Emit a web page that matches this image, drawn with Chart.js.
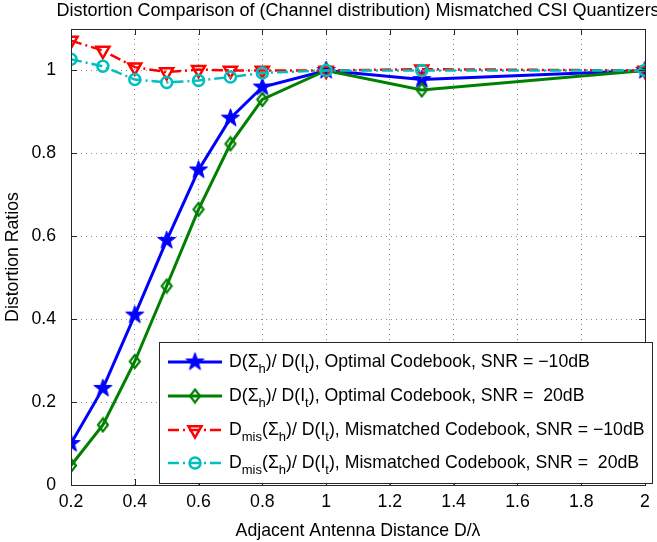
<!DOCTYPE html>
<html><head><meta charset="utf-8">
<script src="https://cdn.jsdelivr.net/npm/chart.js@4.4.0/dist/chart.umd.min.js"></script>
<style>html,body{margin:0;padding:0;background:#fff;overflow:hidden}#wrap{width:657px;height:542px;}</style>
</head><body><div id="wrap"><canvas id="c" width="657" height="542"></canvas></div>
<script>
const xValues = [0.2, 0.3, 0.4, 0.5, 0.6, 0.7, 0.8, 1.0, 1.3, 2.0];
const optimalLow = [0.100, 0.233, 0.410, 0.590, 0.760, 0.885, 0.960, 1.000, 0.978, 1.000];
const optimalHigh = [0.047, 0.145, 0.298, 0.480, 0.665, 0.823, 0.930, 1.000, 0.953, 1.000];
const mismatchLow = [1.072, 1.048, 1.008, 0.996, 1.002, 1.000, 1.000, 1.000, 1.003, 1.000];
const mismatchHigh = [1.027, 1.010, 0.978, 0.971, 0.976, 0.984, 0.994, 1.000, 1.000, 1.000];
const xTicks = [0.2, 0.4, 0.6, 0.8, 1, 1.2, 1.4, 1.6, 1.8, 2];
const yTicks = [0, 0.2, 0.4, 0.6, 0.8, 1];
const titleText = "Distortion Comparison of (Channel distribution) Mismatched CSI Quantizers";
const xTitle = "Adjacent Antenna Distance D/\u03bb";
const yTitle = "Distortion Ratios";
const seriesNames = [
  "D(\u03a3h)/ D(It), Optimal Codebook, SNR = \u221210dB",
  "D(\u03a3h)/ D(It), Optimal Codebook, SNR =  20dB",
  "Dmis(\u03a3h)/ D(It), Mismatched Codebook, SNR = \u221210dB",
  "Dmis(\u03a3h)/ D(It), Mismatched Codebook, SNR =  20dB"
];
// legend rich text: [text, isSubscript]
const legendParts = [
  [["D(\u03a3",0],["h",1],[")/ D(I",0],["t",1],["), Optimal Codebook, SNR = \u221210dB",0]],
  [["D(\u03a3",0],["h",1],[")/ D(I",0],["t",1],["), Optimal Codebook, SNR =  20dB",0]],
  [["D",0],["mis",1],["(\u03a3",0],["h",1],[")/ D(I",0],["t",1],["), Mismatched Codebook, SNR = \u221210dB",0]],
  [["D",0],["mis",1],["(\u03a3",0],["h",1],[")/ D(I",0],["t",1],["), Mismatched Codebook, SNR =  20dB",0]]
];

const FONT = "'Liberation Sans', Arial, Helvetica, sans-serif";
const FS = 17.7;

function makeStar(color, R) {
  const c = document.createElement('canvas');
  const s = Math.ceil(R * 2 + 2);
  c.width = s; c.height = s;
  const g = c.getContext('2d');
  const cx = s / 2, cy = s / 2, r = R * 0.4;
  g.beginPath();
  for (let i = 0; i < 10; i++) {
    const a = -Math.PI / 2 + i * Math.PI / 5;
    const rr = i % 2 === 0 ? R : r;
    g.lineTo(cx + rr * Math.cos(a), cy + rr * Math.sin(a));
  }
  g.closePath();
  g.fillStyle = color; g.fill();
  g.strokeStyle = color; g.lineWidth = 1; g.stroke();
  return c;
}
function makeDiamond(color, w, h) {
  const c = document.createElement('canvas');
  c.width = w + 4; c.height = h + 4;
  const g = c.getContext('2d');
  const cx = c.width / 2, cy = c.height / 2;
  g.beginPath();
  g.moveTo(cx, cy - h / 2); g.lineTo(cx + w / 2, cy); g.lineTo(cx, cy + h / 2); g.lineTo(cx - w / 2, cy);
  g.closePath();
  g.strokeStyle = color; g.lineWidth = 2.2; g.stroke();
  return c;
}
const starImg = makeStar('#0000ff', 9.5);
const diamondImg = makeDiamond('#008000', 10, 13);

function pts(arr) { return xValues.map((x, i) => ({ x: x, y: arr[i] })); }

const datasets = [
  { label: seriesNames[0], data: pts(optimalLow), borderColor: '#0000ff', backgroundColor: '#0000ff',
    borderWidth: 3, pointStyle: starImg, pointRadius: 9, order: 3 },
  { label: seriesNames[1], data: pts(optimalHigh), borderColor: '#008000', backgroundColor: 'rgba(0,0,0,0)',
    borderWidth: 3, pointStyle: diamondImg, pointRadius: 7, order: 2 },
  { label: seriesNames[2], data: pts(mismatchLow), borderColor: '#ff0000', backgroundColor: 'rgba(0,0,0,0)',
    borderWidth: 2.5, borderDash: [11, 4, 2, 4], pointStyle: 'triangle', pointRotation: 180, pointRadius: 7.5,
    pointBorderWidth: 2.5, order: 1 },
  { label: seriesNames[3], data: pts(mismatchHigh), borderColor: '#00bfbf', backgroundColor: 'rgba(0,0,0,0)',
    borderWidth: 2.5, borderDash: [11, 4, 2, 4], pointStyle: 'circle', pointRadius: 5.5,
    pointBorderWidth: 2.5, order: 0 }
];
datasets.forEach(d => { d.showLine = true; d.tension = 0; d.fill = false; d.pointBorderColor = d.borderColor;
  d.pointBackgroundColor = d.backgroundColor; d.pointHoverRadius = d.pointRadius; });

const matlabPlugin = {
  id: 'matlab',
  beforeDraw(chart) {
    const ctx = chart.ctx;
    ctx.save();
    ctx.fillStyle = '#fff';
    ctx.fillRect(0, 0, chart.width, chart.height);
    ctx.restore();
  },
  afterDatasetsDraw(chart) {
    const ctx = chart.ctx, a = chart.chartArea;
    const xs = chart.scales.x, ys = chart.scales.y;
    ctx.save();
    // frame
    ctx.strokeStyle = '#262626'; ctx.lineWidth = 1;
    ctx.strokeRect(Math.round(a.left) + 0.5, Math.round(a.top) + 0.5, Math.round(a.right - a.left), Math.round(a.bottom - a.top));
    // inward ticks
    ctx.beginPath();
    xTicks.forEach(v => {
      const px = Math.round(xs.getPixelForValue(v)) + 0.5;
      ctx.moveTo(px, a.bottom); ctx.lineTo(px, a.bottom - 6);
      ctx.moveTo(px, a.top); ctx.lineTo(px, a.top + 6);
    });
    yTicks.forEach(v => {
      const py = Math.round(ys.getPixelForValue(v)) + 0.5;
      ctx.moveTo(a.left, py); ctx.lineTo(a.left + 6, py);
      ctx.moveTo(a.right, py); ctx.lineTo(a.right - 6, py);
    });
    ctx.stroke();
    // title
    ctx.fillStyle = '#000';
    ctx.font = '18px ' + FONT;
    ctx.textAlign = 'center'; ctx.textBaseline = 'middle';
    ctx.fillText(titleText, (a.left + a.right) / 2, 11);
    // legend
    const L = { x: 159.5, y: 342.5, w: 493, h: 141 };
    ctx.fillStyle = '#fff';
    ctx.fillRect(L.x, L.y, L.w, L.h);
    ctx.strokeStyle = '#262626'; ctx.lineWidth = 1;
    ctx.strokeRect(L.x, L.y, L.w, L.h);
    const rowY = [362, 396, 430, 463];
    chart.data.datasets.forEach((d, i) => {
      const y = rowY[i];
      ctx.save();
      ctx.strokeStyle = d.borderColor; ctx.lineWidth = d.borderWidth;
      ctx.setLineDash(d.borderDash || []);
      ctx.beginPath(); ctx.moveTo(168, y); ctx.lineTo(222, y); ctx.stroke();
      ctx.setLineDash([]);
      ctx.strokeStyle = d.pointBorderColor; ctx.fillStyle = d.pointBackgroundColor;
      ctx.lineWidth = d.pointBorderWidth || 1;
      Chart.helpers.drawPoint(ctx, { pointStyle: d.pointStyle, radius: d.pointRadius, rotation: d.pointRotation || 0,
        borderWidth: d.pointBorderWidth || 1 }, 195, y);
      ctx.restore();
      let x = 229;
      ctx.fillStyle = '#000'; ctx.textAlign = 'left'; ctx.textBaseline = 'middle';
      legendParts[i].forEach(p => {
        if (p[1]) { ctx.font = '13px ' + FONT; ctx.fillText(p[0], x, y + 7); }
        else { ctx.font = FS + 'px ' + FONT; ctx.fillText(p[0], x, y); }
        x += ctx.measureText(p[0]).width;
      });
    });
    ctx.restore();
  }
};

new Chart(document.getElementById('c'), {
  type: 'line',
  data: { datasets: datasets },
  options: {
    responsive: false, animation: false, devicePixelRatio: 1,
    layout: { padding: { top: 29, right: 5, left: 0, bottom: 0 } },
    plugins: { legend: { display: false }, title: { display: false }, tooltip: { enabled: false } },
    scales: {
      x: {
        type: 'linear', min: 0.2, max: 2,
        afterBuildTicks: s => { s.ticks = xTicks.map(v => ({ value: v })); },
        afterFit: s => { s.height = 57; },
        ticks: { font: { size: FS, family: FONT }, color: '#000', padding: 6, maxRotation: 0,
          callback: v => String(v) },
        grid: { color: 'rgba(0,0,0,0.45)', lineWidth: 1, drawTicks: false, borderDash: [1, 4] },
        border: { display: false, dash: [1, 4] },
        title: { display: true, text: xTitle, color: '#000', font: { size: FS, family: FONT }, padding: { top: 1, bottom: 0 } }
      },
      y: {
        type: 'linear', min: 0, max: 1.1,
        afterBuildTicks: s => { s.ticks = yTicks.map(v => ({ value: v })); },
        afterFit: s => { s.width = 71; },
        ticks: { font: { size: FS, family: FONT }, color: '#000', padding: 15, callback: v => String(v) },
        grid: { color: 'rgba(0,0,0,0.45)', lineWidth: 1, drawTicks: false, borderDash: [1, 4] },
        border: { display: false, dash: [1, 4] },
        title: { display: true, text: yTitle, color: '#000', font: { size: FS, family: FONT }, padding: { top: 2, bottom: 0 } }
      }
    }
  },
  plugins: [matlabPlugin]
});
</script></body></html>
